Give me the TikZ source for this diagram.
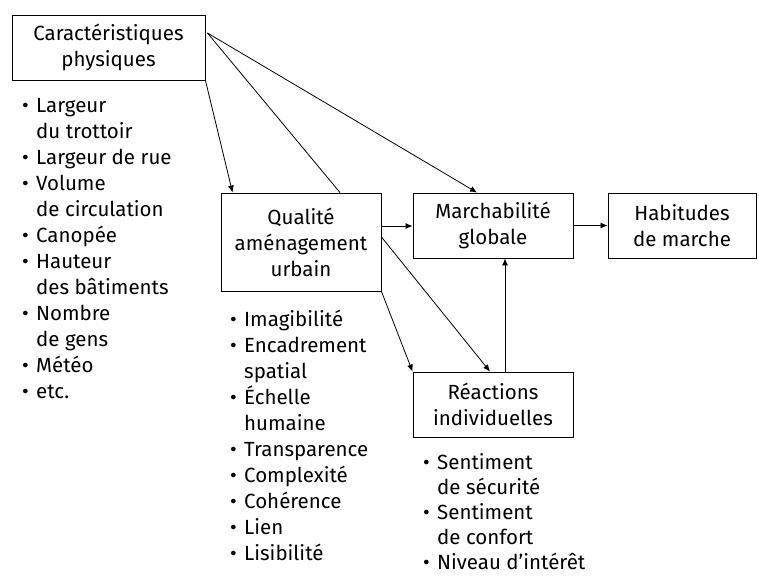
\documentclass[tikz,border=0pt]{standalone}
\usepackage{fontspec}
\setmainfont{Fira Sans}
\usetikzlibrary{arrows.meta}
\newcommand{\bl}{\makebox[14pt][l]{•}}
\newcommand{\ind}{\hspace*{14pt}}
\begin{document}
\begin{tikzpicture}[x=1pt,y=-1pt,
  box/.style={draw, line width=0.9pt, align=center, inner sep=0pt,
    font=\fontsize{20.5}{26}\selectfont},
  lst/.style={align=left, anchor=north west, inner sep=0pt,
    font=\fontsize{20.5}{26}\selectfont},
  arr/.style={-{Latex[length=7pt,width=6pt]}, line width=0.8pt},
  ln/.style={line width=0.8pt}]
\useasboundingbox (0,0) rectangle (759,575);
\node[box, minimum width=193pt, minimum height=65pt] (cp) at (108.5,47.5) {Caractéristiques\\physiques};
\node[box, minimum width=160pt, minimum height=98pt] (qa) at (301,242) {Qualité\\aménagement\\urbain};
\node[box, minimum width=160pt, minimum height=65pt] (mg) at (493,225.5) {Marchabilité\\globale};
\node[box, minimum width=148pt, minimum height=65pt] (hm) at (682,225.5) {Habitudes\\de marche};
\node[box, minimum width=160pt, minimum height=65pt] (ri) at (493,404.5) {Réactions\\individuelles};

\node[lst] (l1) at (22,98) {\bl Largeur\\\ind du trottoir\\\bl Largeur de rue\\\bl Volume\\\ind de circulation\\\bl Canopée\\\bl Hauteur\\\ind des bâtiments\\\bl Nombre\\\ind de gens\\\bl Météo\\\bl etc.};
\node[lst] (l2) at (230,310) {\bl Imagibilité\\\bl Encadrement\\\ind spatial\\\bl Échelle\\\ind humaine\\\bl Transparence\\\bl Complexité\\\bl Cohérence\\\bl Lien\\\bl Lisibilité};
\node[lst, font=\fontsize{20.5}{25}\selectfont] (l3) at (423,453) {\bl Sentiment\\\ind de sécurité\\\bl Sentiment\\\ind de confort\\\bl Niveau d'intérêt};

\draw[arr] (cp.south east) -- ([xshift=12pt]qa.north west);
\draw[ln] ([xshift=2pt,yshift=14.5pt]cp.east) -- ([xshift=39pt]qa.north);
\draw[arr] ([xshift=2pt,yshift=14.5pt]cp.east) -- ([xshift=-16pt]mg.north);
\draw[arr] ([yshift=16pt]qa.east) -- ([yshift=-0.5pt]mg.west);
\draw[arr] (mg.east) -- (hm.west);
\draw[arr] ([yshift=5pt]qa.east) -- ([xshift=-3pt]ri.north);
\draw[arr] (qa.south east) -- (ri.north west);
\draw[arr] ([xshift=12pt]ri.north) -- ([xshift=12pt]mg.south);
\end{tikzpicture}
\end{document}
